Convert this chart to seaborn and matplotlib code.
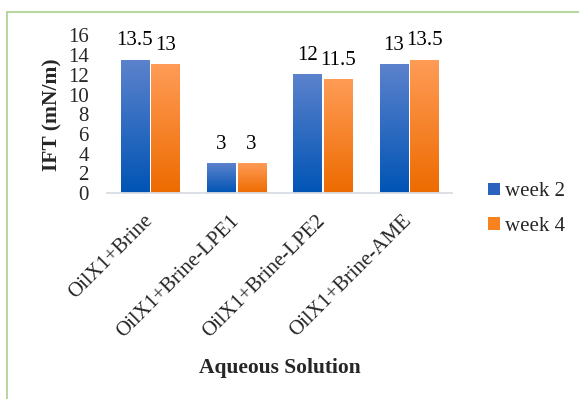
import numpy as np
import pandas as pd
import matplotlib
matplotlib.use("Agg")
import matplotlib.pyplot as plt
from matplotlib.patches import Rectangle, Patch
from matplotlib.colors import LinearSegmentedColormap
import seaborn as sns

# IFT measurements per aqueous solution
categories = ["OilX1+Brine", "OilX1+Brine-LPE1", "OilX1+Brine-LPE2", "OilX1+Brine-AME"]
week2 = [13.5, 3, 12, 13]
week4 = [13, 3, 11.5, 13.5]
series_names = ["week 2", "week 4"]
yticks = [0, 2, 4, 6, 8, 10, 12, 14, 16]

df = pd.DataFrame({
    "solution": categories * 2,
    "ift": week2 + week4,
    "week": [series_names[0]] * len(categories) + [series_names[1]] * len(categories),
})

# gradient end colours (top, bottom) for each series
grad = {
    "week 2": ((0.36, 0.51, 0.80), (0.00, 0.33, 0.71)),
    "week 4": ((1.00, 0.61, 0.34), (0.93, 0.42, 0.00)),
}
solid = {"week 2": "#2a62bd", "week 4": "#f7821e"}

sns.set_style("white")
plt.rcParams["font.family"] = ["Liberation Serif", "DejaVu Serif"]

fig = plt.figure(figsize=(5.79, 3.99), dpi=100)
ax = fig.add_axes([107 / 579, 206 / 399, 345 / 579, 157.6 / 399])

sns.barplot(data=df, x="solution", y="ift", hue="week", order=categories,
            hue_order=series_names, palette=solid, width=0.707, gap=0.081,
            legend=False, ax=ax, errorbar=None)

ax.set_ylim(0, 16)
ax.set_xlim(-0.5, len(categories) - 0.5)

# replace flat fills with vertical gradients
for name, cont in zip(series_names, ax.containers):
    top, bot = grad[name]
    cmap = LinearSegmentedColormap.from_list(name, [bot, top])
    g = np.linspace(0, 1, 256).reshape(-1, 1)
    for bar in cont:
        x0, w, h = bar.get_x(), bar.get_width(), bar.get_height()
        bar.set_alpha(0)
        ax.imshow(g, cmap=cmap, origin="lower", extent=[x0, x0 + w, 0, h],
                  aspect="auto", zorder=2, interpolation="bilinear")
    labels = ["%g" % v for v in cont.datavalues]
    ax.bar_label(cont, labels=labels, padding=7, fontsize=15, color="black")

ax.set_xlim(-0.5, len(categories) - 0.5)
ax.set_ylim(0, 16)
ax.set_yticks(yticks)
ax.set_yticklabels([str(t) for t in yticks], fontsize=15)
ax.tick_params(axis="y", length=0, pad=13)
ax.tick_params(axis="x", length=0, pad=18)
ax.set_xticks(range(len(categories)))
ax.set_xticklabels(categories, rotation=45, ha="right", va="center",
                   rotation_mode="anchor", fontsize=15)

for side in ["top", "right", "left"]:
    ax.spines[side].set_visible(False)
ax.spines["bottom"].set_color("#d9dde4")
ax.spines["bottom"].set_linewidth(1.3)
ax.grid(False)

ax.set_ylabel("IFT (mN/m)", fontsize=15.5, fontweight="bold")
ax.yaxis.set_label_coords(-0.128, 0.495)
ax.set_xlabel("Aqueous Solution", fontsize=15.5, fontweight="bold")
ax.xaxis.set_label_coords(0.5, -1.047)

handles = [Patch(facecolor=solid[n], edgecolor="none") for n in series_names]
fig.legend(handles, series_names, loc="center left",
           bbox_to_anchor=(480 / 579, 1 - 209 / 399), frameon=False,
           fontsize=15, handlelength=0.55, handleheight=0.55,
           handletextpad=0.25, labelspacing=0.75, borderaxespad=0)

# outer chart border
fig.patches.append(Rectangle((7.5 / 579, -0.2), 1.5, 0.2 + (1 - 12 / 399),
                             transform=fig.transFigure, fill=False,
                             edgecolor="#a9d18e", linewidth=1.2))

fig.savefig("out.png", dpi=100)
